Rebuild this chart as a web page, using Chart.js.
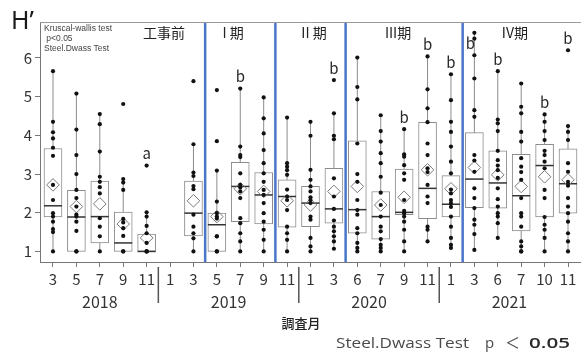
<!DOCTYPE html>
<html>
<head>
<meta charset="utf-8">
<script src="https://cdn.jsdelivr.net/npm/chart.js@4/dist/chart.umd.min.js"></script>
<style>
  html, body { margin: 0; padding: 0; background: #fff; }
  #wrap { width: 581px; height: 353px; }
</style>
</head>
<body>
<div id="wrap"><canvas id="c" width="581" height="353"></canvas></div>
<script>
// Survey months and years
const months = ['3','5','7','9','11','1','3','5','7','9','11','1','3','6','7','9','11','1','3','6','7','10','11'];
const years = ['2018', '2019', '2020', '2021'];
const yearFirst = [0, 5, 11, 17];
const yearLast = [4, 10, 16, 22];

// Construction phases and the month boundaries between them
const phases = ['工事前', 'I 期', 'II 期', 'III期', 'IV期'];
const phaseBreaks = [6.5, 9.5, 12.5, 17.5];

// Diversity index H' per survey: box statistics (null = no survey)
const q1 =          [1.89, 1.00, 1.22, 1.00, 1.00, null, 1.40, 1.00, 1.77, 1.71, 1.63, 1.64, 1.73, 1.47, 1.32, 1.95, 1.85, 1.89, 2.13, 2.12, 1.53, 1.89, 1.99];
const median =      [2.18, 1.89, 1.90, 1.22, 1.00, null, 1.99, 1.69, 2.68, 2.46, 2.42, 2.25, 2.10, 2.08, 1.90, 2.01, 2.63, 2.22, 2.87, 2.77, 2.44, 3.22, 2.75];
const q3 =          [3.66, 2.58, 2.82, 2.02, 1.45, null, 2.82, 1.99, 3.30, 3.04, 2.85, 2.68, 3.15, 3.86, 2.55, 3.13, 4.34, 2.96, 4.07, 3.60, 3.51, 3.77, 3.65];
const whiskerLow =  [1.00, 1.00, 1.00, 1.00, 1.00, null, 1.00, 1.00, 1.00, 1.00, 1.00, 1.00, 1.07, 1.00, 1.00, 1.00, 1.26, 1.09, 1.04, 1.35, 1.00, 1.00, 1.00];
const whiskerHigh = [5.66, 5.08, 4.54, 2.85, 2.00, null, 3.77, 3.09, 5.21, 5.00, 4.48, 4.35, 4.57, 6.01, 4.52, 4.16, 6.04, 5.58, 6.65, 5.66, 5.34, 4.54, 4.24];
const means =       [2.72, 2.16, 2.23, 1.71, 1.35, null, 2.31, 1.90, 2.62, 2.55, 2.31, 2.20, 2.55, 2.68, 2.20, 2.40, 3.11, 2.62, 3.17, 2.98, 2.68, 2.93, 2.85];

// Individual station values per survey
const obs = [
  [5.66, 4.35, 4.08, 3.92, 3.68, 3.47, 2.72, 2.33, 1.99, 1.90, 1.77, 1.58, 1.50, 1.00],
  [5.08, 4.15, 3.49, 3.00, 2.59, 2.38, 2.16, 1.95, 1.90, 1.77, 1.53, 1.00, 1.00],
  [4.55, 4.29, 3.58, 2.93, 2.80, 2.66, 2.50, 1.86, 1.64, 1.39, 1.00],
  [4.81, 2.87, 2.78, 2.59, 1.84, 1.75, 1.60, 1.40, 1.00, 1.00],
  [3.22, 2.01, 1.90, 1.66, 1.47, 1.22, 1.00, 1.00, 1.00],
  [],
  [5.40, 3.77, 3.04, 2.95, 2.69, 2.61, 1.95, 1.64, 1.47, 1.34, 1.00],
  [5.17, 3.85, 3.09, 2.29, 1.99, 1.90, 1.85, 1.39, 1.39, 1.00, 1.00],
  [5.21, 3.71, 3.49, 3.44, 3.02, 2.72, 2.65, 2.55, 2.38, 1.86, 1.73, 1.47, 1.26, 1.00],
  [4.98, 4.44, 4.05, 3.62, 3.28, 3.02, 2.80, 2.59, 2.46, 2.25, 1.99, 1.77, 1.56, 1.30, 1.00],
  [4.46, 3.28, 3.19, 3.10, 2.98, 2.60, 2.42, 2.33, 2.07, 1.64, 1.47, 1.30, 1.00],
  [4.35, 3.99, 3.11, 2.85, 2.68, 2.55, 2.40, 2.33, 2.25, 1.90, 1.82, 1.35, 1.13, 1.00],
  [5.43, 4.57, 3.99, 3.90, 2.89, 2.42, 2.10, 1.80, 1.64, 1.52, 1.39, 1.26, 1.07],
  [6.01, 5.25, 4.93, 3.79, 3.00, 2.80, 2.33, 2.07, 1.95, 1.60, 1.47, 1.22, 1.09, 1.00],
  [4.52, 4.11, 3.84, 3.54, 3.28, 2.93, 2.52, 2.20, 1.90, 1.64, 1.52, 1.32, 1.17, 1.09, 1.00],
  [4.16, 3.51, 3.45, 3.23, 3.02, 2.85, 2.33, 2.05, 1.99, 1.90, 1.77, 1.56, 1.26, 1.00],
  [6.04, 5.19, 4.70, 4.34, 3.79, 3.49, 3.15, 3.05, 2.72, 2.42, 2.25, 1.64, 1.56, 1.26],
  [5.58, 4.91, 4.35, 4.09, 3.71, 3.32, 3.02, 2.60, 2.50, 2.33, 2.25, 2.15, 1.90, 1.64, 1.35, 1.17, 1.09],
  [6.65, 6.50, 6.07, 5.47, 4.65, 4.48, 3.49, 3.35, 3.06, 2.63, 2.38, 2.12, 1.82, 1.69, 1.45, 1.04],
  [5.66, 4.41, 4.31, 4.11, 3.60, 3.36, 3.22, 3.10, 2.90, 2.63, 2.35, 2.16, 1.99, 1.90, 1.73, 1.35],
  [5.34, 4.74, 4.57, 4.09, 3.84, 3.41, 3.19, 3.05, 2.85, 2.38, 1.99, 1.90, 1.64, 1.26, 1.13, 1.00, 1.00],
  [4.54, 4.35, 4.11, 3.88, 3.60, 3.49, 3.32, 3.15, 2.59, 2.38, 1.89, 1.69, 1.56, 1.35, 1.00],
  [6.20, 4.24, 4.09, 3.88, 3.28, 3.06, 2.80, 2.70, 2.38, 2.16, 1.99, 1.77, 1.47, 1.26, 1.00]
];

// Steel-Dwass grouping letters
const groups = ['', '', '', '', 'a', '', '', '', 'b', '', '', '', 'b', '', '', 'b', 'b', 'b', 'b', 'b', '', 'b', 'b'];

const yTicks = [1, 2, 3, 4, 5, 6];

// ---- layout constants ----
const Y_MIN = 0.727, Y_MAX = 6.93;
const X_MIN = -0.555, X_MAX = 22.555;
const CJK = '"Noto Sans CJK JP", "Noto Sans", sans-serif';
const phaseLabelAt = [4.74, 7.69, 11.15, 14.74, 19.73];

// ---- build datasets ----
const idx = months.map((_, i) => i).filter(i => q1[i] !== null);

const boxData = idx.map(i => ({ x: i, y: [q1[i], q3[i]] }));
const medianData = idx.map(i => ({ x: i, y: median[i] }));
const meanData = idx.map(i => ({ x: i, y: means[i] }));
const whiskerData = [];
idx.forEach(i => {
  whiskerData.push({ x: i, y: whiskerLow[i] }, { x: i, y: whiskerHigh[i] }, { x: i, y: null });
});
const pointData = [];
obs.forEach((vals, i) => vals.forEach(v => pointData.push({ x: i, y: v })));
const breakData = [];
phaseBreaks.forEach(b => breakData.push({ x: b, y: Y_MIN }, { x: b, y: Y_MAX }, { x: b, y: null }));

// no extra side padding for the axes, the plot area spans the canvas width
function noPad(s) {
  s.paddingLeft = 0; s.paddingRight = 0; s.paddingTop = 0; s.paddingBottom = 0;
}

// ---- text decorations ----
function fitText(ctx, str, left, right, baseline) {
  const w = ctx.measureText(str).width;
  const target = right - left;
  ctx.save();
  ctx.translate(left, baseline);
  ctx.scale(target / w, 1);
  ctx.fillText(str, 0, 0);
  ctx.restore();
}

const decor = {
  id: 'decor',
  afterDraw(chart) {
    const { ctx, chartArea: a, scales } = chart;
    const x = scales.x, y = scales.y;
    ctx.save();

    // top frame edge
    ctx.strokeStyle = '#9a9a9a';
    ctx.lineWidth = 1;
    ctx.beginPath();
    ctx.moveTo(a.left, a.top + 0.5);
    ctx.lineTo(a.right, a.top + 0.5);
    ctx.stroke();

    // separators between years below the axis
    ctx.strokeStyle = '#555';
    ctx.lineWidth = 1.5;
    for (let k = 1; k < yearFirst.length; k++) {
      const px = x.getPixelForValue((yearLast[k - 1] + yearFirst[k]) / 2);
      ctx.beginPath();
      ctx.moveTo(px, a.bottom + 5);
      ctx.lineTo(px, a.bottom + 41);
      ctx.stroke();
    }

    // axis name
    ctx.fillStyle = '#1a1a1a';
    ctx.font = '400 25px "Noto Sans", sans-serif';
    ctx.textAlign = 'left';
    ctx.textBaseline = 'alphabetic';
    ctx.fillText('H\u2019', 11, 29);

    // test notes
    ctx.fillStyle = '#444';
    ctx.font = '8.5px "Liberation Sans", Arial, sans-serif';
    ctx.textBaseline = 'middle';
    ctx.fillText('Kruscal-wallis test', 44, 29);
    ctx.fillText(' p<0.05', 44, 39);
    ctx.fillText('Steel.Dwass Test', 44, 48.5);

    // phase names
    ctx.fillStyle = '#222';
    ctx.font = '14px ' + CJK;
    ctx.textAlign = 'center';
    phases.forEach((p, k) => ctx.fillText(p, x.getPixelForValue(phaseLabelAt[k]), 33));

    // significance letters
    ctx.font = '15px ' + CJK;
    ctx.fillStyle = '#2a2a2a';
    groups.forEach((g, i) => {
      if (!g) return;
      const top = Math.max(...obs[i]);
      let px = x.getPixelForValue(i);
      let py = y.getPixelForValue(top) - 12;
      if (py < a.top + 14) { px -= 4; py = y.getPixelForValue(top) + 10; }
      ctx.fillText(g, px, py);
    });

    // x axis title
    ctx.font = '500 13px ' + CJK;
    ctx.fillStyle = '#222';
    ctx.fillText('調査月', 301, 323);

    // test footnote
    ctx.textAlign = 'left';
    ctx.textBaseline = 'alphabetic';
    ctx.fillStyle = '#4a4a4a';
    ctx.font = '400 15px "Open Sans", "Noto Sans", sans-serif';
    fitText(ctx, 'Steel.Dwass Test', 336, 469, 348);
    ctx.fillText('p', 485, 348);
    ctx.font = '400 15px ' + CJK;
    ctx.fillText('\uFF1C', 505, 348);
    ctx.fillStyle = '#2a2a2a';
    ctx.font = '600 15px "Open Sans", "Noto Sans", sans-serif';
    fitText(ctx, '0.05', 529, 570, 348);

    ctx.restore();
  }
};

new Chart(document.getElementById('c'), {
  type: 'bar',
  data: {
    datasets: [
      {
        type: 'scatter', data: pointData, order: 0,
        pointRadius: 2.1, pointBackgroundColor: '#111', pointBorderWidth: 0
      },
      {
        type: 'scatter', data: meanData, order: 1,
        pointStyle: 'rectRot', pointRadius: 6.3,
        pointBorderColor: '#7a7a7a', pointBorderWidth: 1, pointBackgroundColor: 'rgba(0,0,0,0)'
      },
      {
        type: 'scatter', data: medianData, order: 2,
        pointStyle: 'line', pointRadius: 9, pointBorderColor: '#333', pointBorderWidth: 1.5
      },
      {
        type: 'bar', data: boxData, order: 3,
        backgroundColor: '#fff', borderColor: '#8c8c8c', borderWidth: 1,
        borderSkipped: false, barThickness: 18
      },
      {
        type: 'line', data: whiskerData, order: 4,
        borderColor: '#8c8c8c', borderWidth: 1, pointRadius: 0, spanGaps: false
      },
      {
        type: 'line', data: breakData, order: 5,
        borderColor: '#4a76c9', borderWidth: 2.5, pointRadius: 0, spanGaps: false
      }
    ]
  },
  options: {
    responsive: false,
    animation: false,
    events: [],
    layout: { autoPadding: false, padding: { top: 22, right: 0, bottom: 39, left: 0 } },
    plugins: { legend: { display: false }, tooltip: { enabled: false } },
    scales: {
      x: {
        type: 'linear', position: 'bottom', min: X_MIN, max: X_MAX, weight: 0, offset: false,
        afterBuildTicks: s => { s.ticks = months.map((_, i) => ({ value: i })); },
        afterFit: s => { s.height = 26; noPad(s); },
        ticks: {
          callback: v => months[v], autoSkip: false, maxRotation: 0,
          font: { family: CJK, size: 15 }, color: '#333', padding: 3
        },
        grid: { display: true, offset: false, drawOnChartArea: false, drawTicks: true, tickLength: 5, color: '#777' },
        border: { display: true, color: '#777', width: 1 }
      },
      xYear: {
        type: 'linear', position: 'bottom', min: X_MIN, max: X_MAX, weight: 1, offset: false,
        afterBuildTicks: s => { s.ticks = years.map((_, k) => ({ value: (yearFirst[k] + yearLast[k]) / 2 })); },
        afterFit: s => { s.height = 26; noPad(s); },
        ticks: {
          callback: (v, k) => years[k], autoSkip: false, maxRotation: 0,
          font: { family: CJK, size: 16, lineHeight: 1 }, color: '#333', padding: -2
        },
        grid: { display: false, offset: false },
        border: { display: false }
      },
      y: {
        type: 'linear', min: Y_MIN, max: Y_MAX,
        afterBuildTicks: s => { s.ticks = yTicks.map(v => ({ value: v })); },
        afterFit: s => { s.width = 40; noPad(s); },
        ticks: { font: { family: CJK, size: 15 }, color: '#333', padding: 3 },
        grid: { display: true, drawOnChartArea: false, drawTicks: true, tickLength: 5, color: '#777' },
        border: { display: true, color: '#777', width: 1 }
      }
    }
  },
  plugins: [decor]
});
</script>
</body>
</html>
